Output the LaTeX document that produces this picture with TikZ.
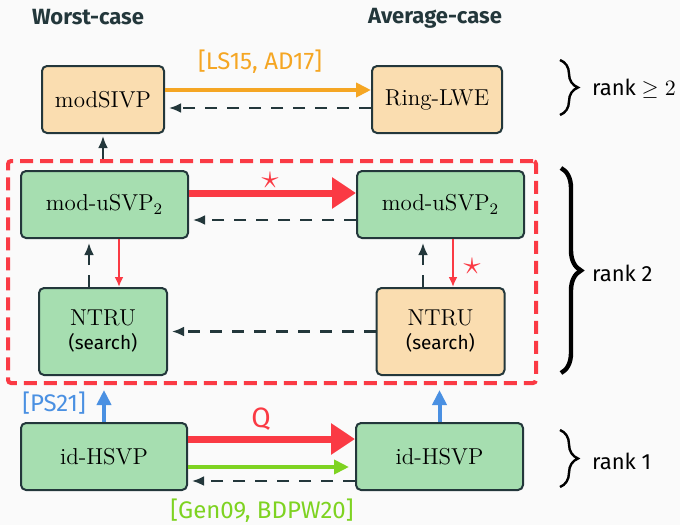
\documentclass[tikz,border=0pt]{standalone}
\usepackage{fontspec}
\setsansfont{Fira Sans}
\usepackage{amsmath}
\usepackage{amssymb}
\usepackage{tikz}
\usetikzlibrary{arrows.meta}
\usetikzlibrary{decorations.pathreplacing}
\definecolor{darkteal}{HTML}{23373B}
\definecolor{boxgreen}{HTML}{A6DEB0}
\definecolor{boxorange}{HTML}{FADDB0}
\definecolor{arrred}{HTML}{FA3A44}
\definecolor{arrorange}{HTML}{F5A623}
\definecolor{arrgreen}{HTML}{7ED321}
\definecolor{arrblue}{HTML}{4A90E2}
\definecolor{bggray}{HTML}{FAFAFA}

\begin{document}
\begin{tikzpicture}[x=0.5pt,y=-0.5pt,
    prob node/.style={rectangle,rounded corners=2.5pt,draw=darkteal,line width=1pt,inner sep=0pt,
      minimum height=33.5pt,font=\fontsize{11.5}{13}\selectfont,align=center},
    wc node/.style={prob node,fill=boxgreen},
    ac node/.style={prob node,fill=boxorange},
    head/.style={font=\sffamily\bfseries\fontsize{11}{13}\selectfont,text=darkteal},
    cite/.style={font=\sffamily\fontsize{12}{14}\selectfont},
    rank/.style={font=\sffamily\fontsize{11}{13}\selectfont,anchor=west},
    dash arrow/.style={-{Latex[length=6pt,width=5pt]},darkteal,line width=1.2pt,dash pattern=on 6pt off 5pt,shorten >=2pt},
    thin red/.style={-{Latex[length=5pt,width=4.5pt]},arrred,line width=1pt},
    big red/.style={-{Triangle[length=12pt,width=15pt]},arrred,line width=3.5pt},
    ref arrow/.style={-{Triangle[length=7.5pt,width=7pt]},line width=2pt},
    rbrace/.style={decorate,decoration={brace,amplitude=9pt},line width=1.2pt}]
   \fill[bggray] (0,0) rectangle (680,525);
   \useasboundingbox (0,0) rectangle (680,525);

   % column titles
   \node[head] (wtitle) at (88,17) {Worst-case};
   \node[head] (atitle) at (435,18) {Average-case};

   % rank 2 frame
   \node[draw=arrred,line width=2pt,dash pattern=on 6.5pt off 3.5pt,rounded corners=1.5pt,
     minimum width=264pt,minimum height=111pt] (r2) at (272,272) {};

   % problems
   \node[ac node,minimum width=61pt] (sivp) at (103,99.5) {modSIVP};
   \node[ac node,minimum width=65pt] (rlwe) at (437,99.5) {Ring-LWE};
   \node[wc node,minimum width=83.5pt] (usvpl) at (104.5,204.5) {mod-uSVP$_2$};
   \node[wc node,minimum width=83.5pt] (usvpr) at (440.5,204.5) {mod-uSVP$_2$};
   \node[wc node,minimum width=64pt,minimum height=43.5pt] (ntrul) at (103,331.5) {NTRU\\[-1pt]{\sffamily\fontsize{9.5}{11}\selectfont(search)}};
   \node[ac node,minimum width=64pt,minimum height=43.5pt] (ntrur) at (440.5,331.5) {NTRU\\[-1pt]{\sffamily\fontsize{9.5}{11}\selectfont(search)}};
   \node[wc node,minimum width=83pt] (hsvpl) at (104,456.5) {id-HSVP};
   \node[wc node,minimum width=83.5pt] (hsvpr) at (439.5,456.5) {id-HSVP};

   % top row
   \path[ref arrow,arrorange] ([yshift=4.75pt]sivp.east) edge ([yshift=4.75pt]rlwe.west);
   \path[dash arrow] ([yshift=-4.25pt]rlwe.west) edge ([yshift=-4.25pt]sivp.east);
   \node[cite,text=arrorange] (c1) at (260,62) {[LS15, AD17]};
   \path[-{Latex[length=6pt,width=5pt]},darkteal,line width=1.2pt] (sivp.south |- r2.north) edge ([yshift=-1pt]sivp.south);

   % rank 2
   \path[big red] ([yshift=5.75pt]usvpl.east) edge ([yshift=5.75pt]usvpr.west);
   \node[text=arrred,font=\fontsize{17}{17}\selectfont] (s1) at (270,180) {$\star$};
   \path[dash arrow] ([yshift=-7.75pt]usvpr.west) edge ([yshift=-7.75pt]usvpl.east);
   \path[thin red] ([xshift=7.25pt]usvpl.south) edge ([xshift=7.25pt]usvpl.south |- ntrul.north);
   \path[dash arrow] ([xshift=-7.75pt]usvpl.south |- ntrul.north) edge ([xshift=-7.75pt]usvpl.south);
   \path[thin red] ([xshift=6.25pt]usvpr.south) edge ([xshift=6.25pt]usvpr.south |- ntrur.north);
   \node[text=arrred,font=\fontsize{17}{17}\selectfont] (s2) at (472,266) {$\star$};
   \path[dash arrow] ([xshift=-8.75pt]usvpr.south |- ntrur.north) edge ([xshift=-8.75pt]usvpr.south);
   \path[dash arrow] (ntrur.west) edge (ntrul.east);

   % rank 1
   \path[ref arrow,arrblue,shorten >=2.5pt] (hsvpl.north) edge (hsvpl.north |- r2.south);
   \path[ref arrow,arrblue,shorten >=2.5pt] (hsvpr.north) edge (hsvpr.north |- r2.south);
   \node[cite,text=arrblue] (c2) at (54,403) {[PS21]};
   \path[big red] ([yshift=8.75pt]hsvpl.east) edge ([yshift=8.75pt]hsvpr.west);
   \node[cite,text=arrred,font=\sffamily\fontsize{14}{16}\selectfont] (q) at (261,419) {Q};
   \path[ref arrow,arrgreen,shorten >=3pt] ([yshift=-5.25pt]hsvpl.east) edge ([yshift=-5.25pt]hsvpr.west);
   \path[dash arrow] ([yshift=-12.25pt]hsvpr.west) edge ([yshift=-12.25pt]hsvpl.east);
   \node[cite,text=arrgreen,inner sep=0.5pt] (c3) at (262,511) {[Gen09, BDPW20]};

   % ranks
   \draw[rbrace] (560,60) -- (560,115);
   \node[rank] (k1) at (585,89) {rank $\geq 2$};
   \draw[rbrace,line width=2.2pt,decoration={amplitude=10pt}] (561,168) -- (561,373);
   \node[rank] (k2) at (585,273) {rank 2};
   \draw[rbrace] (560,430) -- (560,487);
   \node[rank] (k3) at (585,461) {rank 1};
\end{tikzpicture}
\end{document}
